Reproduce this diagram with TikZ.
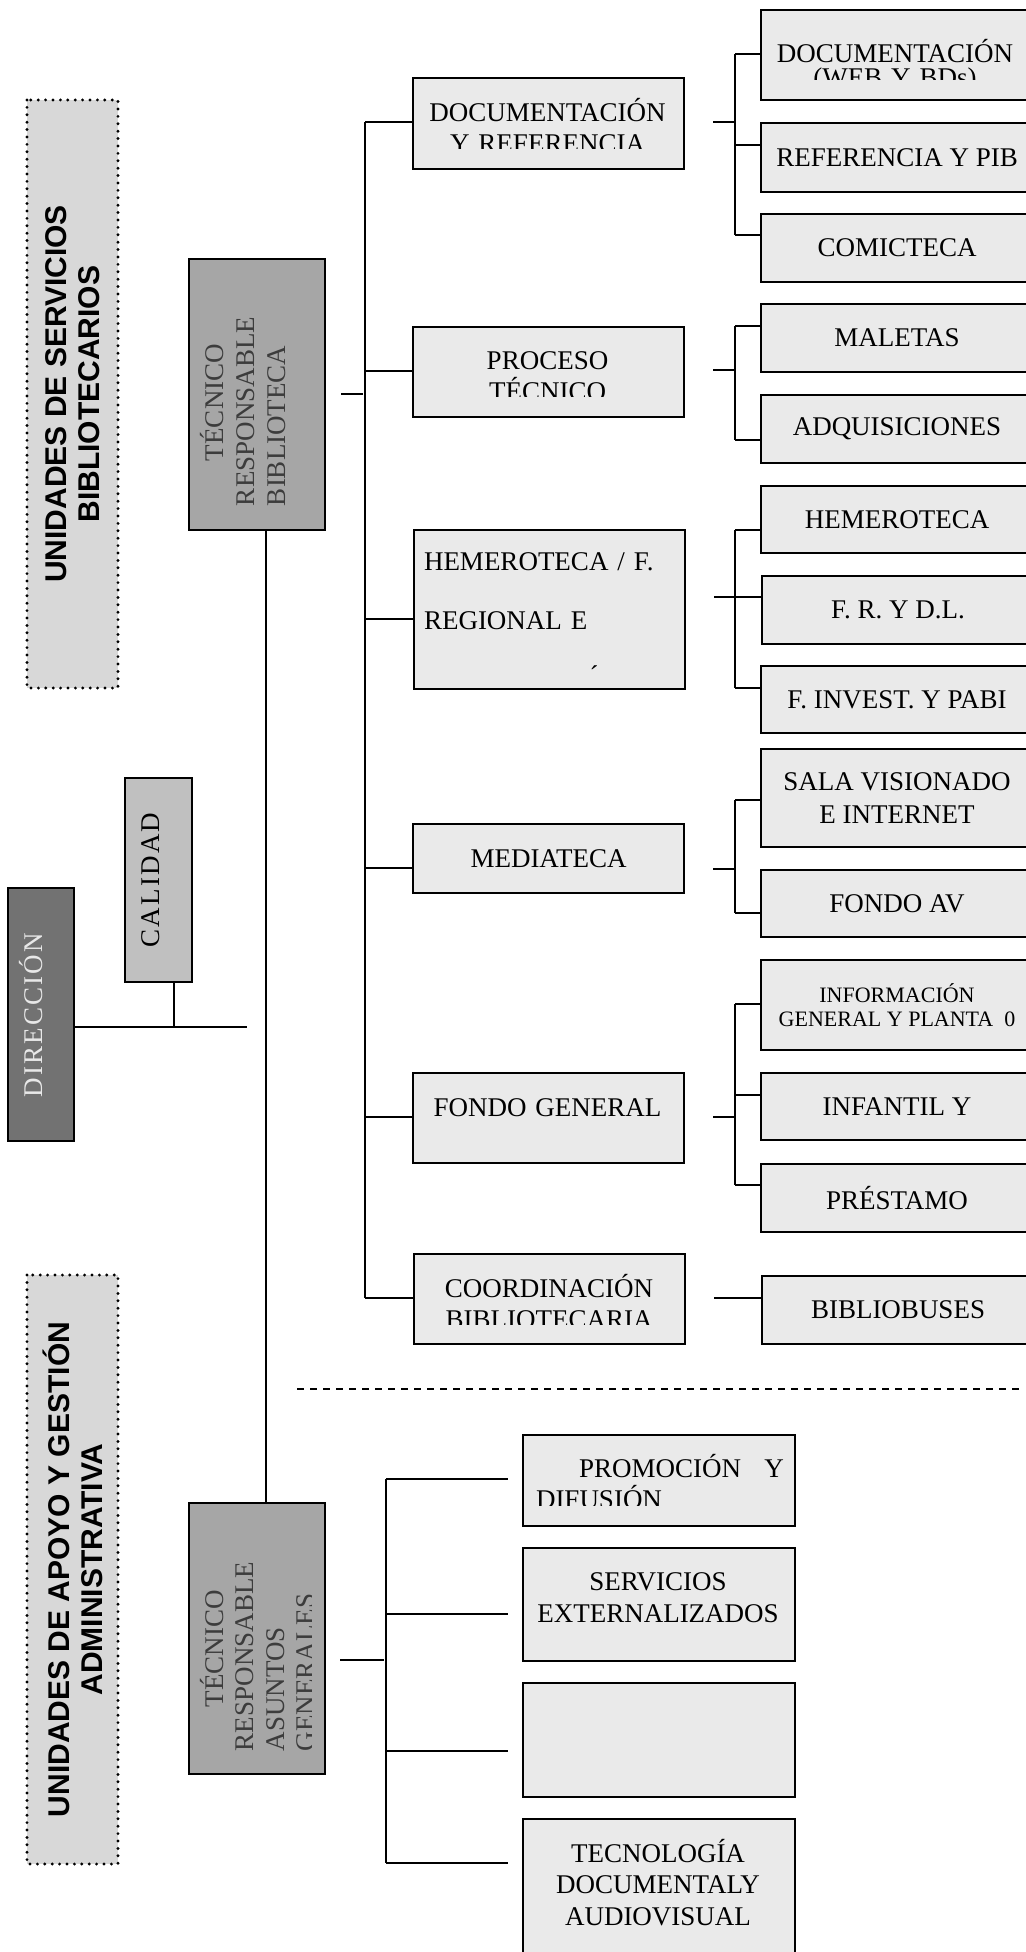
\documentclass[tikz,border=0pt]{standalone}
\usepackage{fontspec}
\setmainfont{Liberation Serif}
\newfontfamily\unitfont{Liberation Sans}
\newfontfamily\spacedfont{Liberation Serif}[LetterSpace=8]
\usepackage{tikz}

\definecolor{boxgray}{HTML}{EAEAEA}
\definecolor{unitgray}{HTML}{D8D8D8}
\definecolor{headgray}{HTML}{A6A6A6}
\definecolor{dirgray}{HTML}{727272}
\definecolor{calgray}{HTML}{C0C0C0}
\definecolor{tecgray}{HTML}{3C3C3C}
\definecolor{dirtext}{HTML}{E8E8E8}

\begin{document}
\begin{tikzpicture}[x=0.5pt, y=-0.5pt, line width=1pt,
    every node/.style={font=\fontsize{13.5}{15.5}\selectfont},
    box/.style={draw, fill=boxgray, inner sep=0pt, anchor=north west, align=center},
    lev2/.style={box, minimum width=135.5pt},
    lev3/.style={box, minimum width=136pt},
    head/.style={box, fill=headgray, minimum width=68pt, minimum height=135.5pt},
    lbl/.style={inner sep=0pt, align=center, text width=132pt, anchor=base},
    tectxt/.style={rotate=90, align=left, text width=130pt, inner sep=0pt, text=tecgray, anchor=base west},
    spacedtxt/.style={rotate=90, anchor=base, inner sep=0pt, font=\spacedfont\fontsize{13.5}{15.5}\selectfont},
    unit/.style={draw, fill=unitgray, rotate=90, align=center, line width=1.6pt, line cap=round, dash pattern=on 0pt off 3.7pt, minimum height=45.5pt, font=\unitfont\bfseries\fontsize{15}{16.5}\selectfont}]
  \useasboundingbox (0,0) rectangle (1025,1952);

  % unidades
  \node[unit, minimum width=294pt] (servunit) at (72.5,394) {UNIDADES DE SERVICIOS\\BIBLIOTECARIOS};
  \node[unit, minimum width=294.5pt] (apoyunit) at (72.5,1569.5) {UNIDADES DE APOYO Y GESTIÓN\\ADMINISTRATIVA};

  % direccion y calidad
  \node[box, fill=dirgray, minimum width=33pt, minimum height=126.5pt] (dir) at (7,887) {};
  \node[spacedtxt, text=dirtext] (dirt) at (42,1015) {DIRECCIÓN};
  \node[box, fill=calgray, minimum width=33.5pt, minimum height=102pt] (cal) at (124,777) {};
  \node[spacedtxt] (calt) at (159,880) {CALIDAD};

  % tecnicos
  \node[head] (tecbib) at (188,258) {};
  \node[tectxt] (tecbibt) at (223,507) {\hspace*{22.5pt}TÉCNICO\\RESPONSABLE\\BIBLIOTECA};
  \node[head] (tecgen) at (188,1502) {};
  \begin{scope}
    \clip (tecgen.north west) rectangle (311,1773);
    \node[tectxt, font=\fontsize{13.5}{15.25}\selectfont] (tecgent) at (223,1752) {\hspace*{22pt}TÉCNICO\\RESPONSABLE\\ASUNTOS\\GENERALES};
  \end{scope}

  % nivel 2
  \node[lev2, minimum height=45.5pt] (docref) at (412,77) {};
  \node[lev2, minimum height=45pt] (proceso) at (412,326) {};
  \node[lev2, minimum height=79.5pt] (hemero) at (413,529) {};
  \node[lev2, minimum height=34.5pt] (media) at (412,823) {MEDIATECA};
  \node[lev2, minimum height=45pt] (fondo) at (412,1072) {};
  \node[lev2, minimum height=45pt] (coord) at (413,1253) {};

  \begin{scope}
    \clip (docref.north west) rectangle (683,149);
    \node[lbl] (docreft) at (547.5,122) {DOCUMENTACIÓN\\Y REFERENCIA};
  \end{scope}
  \begin{scope}
    \clip (proceso.north west) rectangle (683,397);
    \node[lbl] (procesot) at (547.5,370) {PROCESO\\TÉCNICO};
  \end{scope}
  \node[lbl, align=left, text width=130pt, anchor=base west, font=\fontsize{13.5}{29.5}\selectfont] (hemerot) at (423,570) {HEMEROTECA / F.\\REGIONAL E};
  \node[inner sep=0pt, anchor=base] (hemeroacc) at (594,684) {´};
  \node[lbl] (fondot) at (547.5,1116) {FONDO GENERAL};
  \begin{scope}
    \clip (coord.north west) rectangle (685,1324);
    \node[lbl] (coordt) at (549,1297) {COORDINACIÓN\\BIBLIOTECARIA};
  \end{scope}

  % nivel 3
  \node[lev3, minimum height=45pt] (docweb) at (760,9) {};
  \begin{scope}
    \clip (docweb.north west) rectangle (1025,80);
    \node[lbl, font=\fontsize{13.5}{12}\selectfont] (docwebt) at (895,63) {DOCUMENTACIÓN\\(WEB Y BDs)};
  \end{scope}
  \node[lev3, minimum height=34.5pt] (refpib) at (760,122) {REFERENCIA Y PIB};
  \node[lev3, minimum height=34pt] (comic) at (760,213) {COMICTECA};
  \node[lev3, minimum height=34pt] (maletas) at (760,303) {MALETAS};
  \node[lev3, minimum height=34pt] (adq) at (760,394) {ADQUISICIONES};
  \node[lev3, minimum height=33.5pt] (hemerot3) at (760,485) {HEMEROTECA};
  \node[lev3, minimum height=34pt] (frdl) at (761,575) {F. R. Y D.L.};
  \node[lev3, minimum height=33.5pt] (finvest) at (760,665) {F. INVEST. Y PABI};
  \node[lev3, minimum height=49pt, font=\fontsize{13.5}{16.5}\selectfont] (sala) at (760,748) {SALA VISIONADO\\E INTERNET};
  \node[lev3, minimum height=33.5pt] (fondoav) at (760,869) {FONDO AV};
  \node[lev3, minimum height=45pt, font=\fontsize{11}{12}\selectfont] (info) at (760,959) {INFORMACIÓN\\GENERAL Y PLANTA\ \ 0};
  \node[lev3, minimum height=33.5pt] (infantil) at (760,1072) {INFANTIL Y};
  \node[lev3, minimum height=34pt] (prestamo) at (760,1163) {PRÉSTAMO};
  \node[lev3, minimum height=34pt] (biblio) at (761,1275) {BIBLIOBUSES};

  % asuntos generales
  \node[lev3, minimum height=45.5pt] (promo) at (522,1434) {};
  \begin{scope}
    \clip (promo.north west) rectangle (794,1505);
    \node[lbl, align=left, text width=124pt, anchor=base west] (promot) at (535,1477) {\hspace*{21.5pt}PROMOCIÓN\hfill Y\\DIFUSIÓN};
  \end{scope}
  \node[lev3, minimum height=56.5pt] (serv) at (522,1547) {};
  \node[lbl, font=\fontsize{13.5}{16}\selectfont] (servt) at (658,1590) {SERVICIOS\\EXTERNALIZADOS};
  \node[lev3, minimum height=57pt] (blank) at (522,1682) {};
  \node[lev3, minimum height=70pt] (tecno) at (522,1818) {};
  \node[lbl, font=\fontsize{13.5}{15.75}\selectfont] (tecnot) at (658,1862) {TECNOLOGÍA\\DOCUMENTALY\\AUDIOVISUAL};

  % conectores
  \draw ([xshift=4.5pt]tecbib.south) -- ([xshift=4.5pt]tecgen.north);
  \coordinate (dj) at (174,1027);
  \coordinate (dend) at (247,1027);
  \draw (dj -| dir.east) -- (dend);
  \draw (cal.south -| dj) -- (dj);

  \coordinate (m0) at (365,394);
  \draw[shorten <=7.5pt, shorten >=1pt] (m0 -| tecbib.east) -- (m0);
  \foreach \y/\b in {122/docref, 371/proceso, 619/hemero, 868/media, 1117/fondo, 1298/coord} {
    \coordinate (m\b) at (365,\y);
    \draw (m\b) -- (m\b -| \b.west);
  }
  \draw (mdocref) -- (mcoord);

  \foreach \y/\a in {122/docref, 370/proceso, 597/hemero, 869/media, 1117/fondo} {
    \coordinate (p\a) at (735,\y);
    \draw[shorten <=14pt] (p\a -| \a.east) -- (p\a);
  }
  \coordinate (pcoord) at (735,1298);
  \draw[shorten <=14pt] (pcoord -| coord.east) -- (pcoord -| biblio.west);
  \foreach \y/\b in {54/docweb, 145/refpib, 235/comic, 326/maletas, 440/adq, 530/hemerot3, 597/frdl, 688/finvest, 800/sala, 913/fondoav, 1004/info, 1095/infantil, 1185/prestamo} {
    \coordinate (s\b) at (735,\y);
    \draw (s\b) -- (s\b -| \b.west);
  }
  \draw (sdocweb) -- (scomic);
  \draw (smaletas) -- (sadq);
  \draw (shemerot3) -- (sfinvest);
  \draw (ssala) -- (sfondoav);
  \draw (sinfo) -- (sprestamo);

  \coordinate (g0) at (386,1660);
  \draw[shorten <=7pt, shorten >=1pt] (g0 -| tecgen.east) -- (g0);
  \foreach \y/\b in {1479/promo, 1614/serv, 1751/blank, 1863/tecno} {
    \coordinate (g\b) at (386,\y);
    \draw[shorten >=7pt] (g\b) -- (g\b -| \b.west);
  }
  \draw (gpromo) -- (gtecno);

  % separador
  \coordinate (dl) at (297,1389);
  \coordinate (dr) at (1025,1389);
  \draw[dash pattern=on 3.5pt off 3pt] (dl) -- (dr);
\end{tikzpicture}
\end{document}
